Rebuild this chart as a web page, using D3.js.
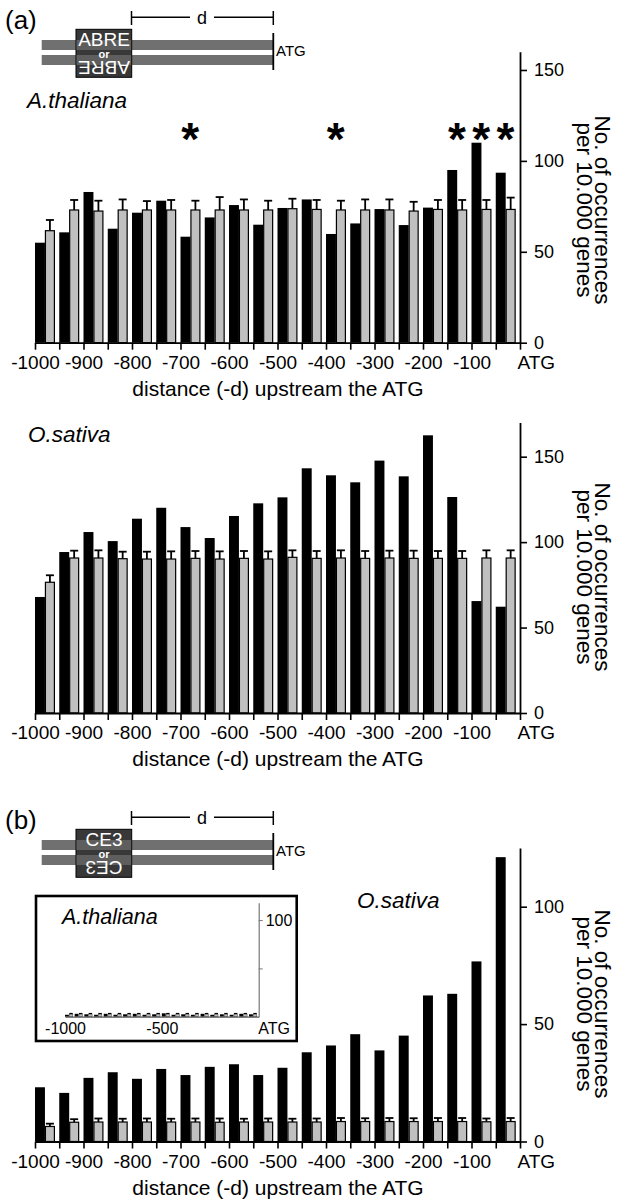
<!DOCTYPE html>
<html>
<head>
<meta charset="utf-8">
<script src="https://cdn.jsdelivr.net/npm/d3@7"></script>
<style>
  body { margin: 0; background: #fff; }
  svg { display: block; font-family: "Liberation Sans", Arial, sans-serif; }
</style>
</head>
<body>
<svg width="619" height="1199"></svg>
<script>
// bin starts (50 bp windows upstream of ATG)
const binStarts = [-1000, -950, -900, -850, -800, -750, -700, -650, -600, -550,
  -500, -450, -400, -350, -300, -250, -200, -150, -100, -50];

const xTickValues = [-1000, -950, -900, -850, -800, -750, -700, -650, -600, -550,
  -500, -450, -400, -350, -300, -250, -200, -150, -100, -50, 0];
const xTickLabels = ["-1000", "", "-900", "", "-800", "", "-700", "", "-600", "",
  "-500", "", "-400", "", "-300", "", "-200", "", "-100", "", "ATG"];

// (a) ABRE, A.thaliana
const abreAthObserved = [55.0, 60.7, 82.9, 62.7, 71.5, 78.1, 58.3, 68.9, 75.7, 64.9,
  74.1, 78.8, 59.8, 65.6, 73.5, 64.7, 74.3, 95.0, 110.0, 93.5];
const abreAthRandom = [61.6, 73.0, 72.4, 73.0, 73.0, 73.0, 73.0, 73.0, 73.0, 73.0,
  73.7, 73.3, 73.0, 73.0, 73.0, 72.4, 73.3, 73.0, 73.3, 73.3];
const abreAthErr = [5.9, 5.5, 5.7, 5.8, 4.9, 5.5, 5.1, 7.1, 5.8, 5.1,
  5.5, 5.2, 5.1, 5.8, 5.8, 5.1, 5.2, 5.5, 5.2, 6.5];
const abreAthStars = [-700, -400, -150, -100, -50];

// (a) ABRE, O.sativa
const abreOsObserved = [67.9, 94.2, 105.9, 100.6, 113.7, 120.1, 108.8, 102.4, 115.3, 122.7,
  126.2, 143.2, 139.1, 135.0, 147.7, 138.5, 162.5, 126.4, 65.5, 62.2];
const abreOsRandom = [76.5, 90.7, 90.7, 90.3, 90.1, 90.1, 90.5, 90.1, 90.5, 90.1,
  91.1, 90.5, 90.7, 90.5, 90.7, 90.5, 90.5, 90.5, 90.7, 90.7];
const abreOsErr = [4.1, 4.3, 4.5, 4.1, 4.3, 4.5, 4.3, 4.5, 4.3, 4.5,
  4.1, 4.3, 4.5, 4.3, 4.3, 4.5, 4.3, 4.3, 4.5, 4.5];

// (b) CE3, O.sativa
const ce3OsObserved = [23.1, 20.7, 27.1, 29.5, 26.7, 30.9, 28.3, 31.8, 32.9, 28.3,
  31.4, 38.0, 40.9, 45.7, 38.8, 45.1, 62.2, 62.9, 76.7, 121.1];
const ce3OsRandom = [6.4, 8.2, 8.3, 8.3, 8.3, 8.3, 8.3, 8.2, 8.3, 8.3,
  8.3, 8.3, 8.5, 8.5, 8.5, 8.5, 8.5, 8.5, 8.4, 8.5];
const ce3OsErr = [1.2, 1.3, 1.5, 1.4, 1.5, 1.4, 1.5, 1.6, 1.4, 1.5,
  1.4, 1.5, 1.5, 1.4, 1.5, 1.4, 1.5, 1.5, 1.4, 1.5];

// (b) inset CE3, A.thaliana
const ce3AthObserved = [2.0, 3.0, 2.5, 2.0, 3.0, 2.0, 2.5, 3.0, 2.0, 2.5,
  3.5, 2.0, 2.5, 2.0, 3.0, 2.0, 2.5, 2.0, 3.0, 2.5];
const ce3AthRandom = [2.5, 2.5, 2.5, 2.5, 2.5, 2.5, 2.5, 2.5, 2.5, 2.5,
  2.5, 2.5, 2.5, 2.5, 2.5, 2.5, 2.5, 2.5, 2.5, 2.5];
const ce3AthErr = [0.8, 0.8, 0.8, 0.8, 0.8, 0.8, 0.8, 0.8, 0.8, 0.8,
  0.8, 0.8, 0.8, 0.8, 0.8, 0.8, 0.8, 0.8, 0.8, 0.8];

const FONT = '"Liberation Sans", Arial, sans-serif';
const svg = d3.select("svg");

const x = d3.scaleLinear().domain([-1000, 0]).range([35, 520]);

const drawPanel = (o) => {
  const y = d3.scaleLinear().domain([0, o.yMax]).range([o.base, o.top]);
  const g = svg.append("g");

  const data = binStarts.map((s, i) => ({ s, obs: o.obs[i], rnd: o.rnd[i], err: o.err[i] }));

  g.selectAll(".obs").data(data).enter().append("rect")
    .attr("x", d => x(d.s))
    .attr("width", d => x(d.s + 20.5) - x(d.s))
    .attr("y", d => y(d.obs))
    .attr("height", d => y(0) - y(d.obs))
    .attr("fill", "#000");

  // error bars behind the grey bars
  g.selectAll(".errv").data(data).enter().append("line")
    .attr("x1", d => x(d.s + 30.75)).attr("x2", d => x(d.s + 30.75))
    .attr("y1", d => y(d.rnd)).attr("y2", d => y(d.rnd + d.err))
    .attr("stroke", "#000").attr("stroke-width", 1.8);
  g.selectAll(".errc").data(data).enter().append("line")
    .attr("x1", d => x(d.s + 22.5)).attr("x2", d => x(d.s + 39))
    .attr("y1", d => y(d.rnd + d.err)).attr("y2", d => y(d.rnd + d.err))
    .attr("stroke", "#000").attr("stroke-width", 1.8);

  g.selectAll(".rnd").data(data).enter().append("rect")
    .attr("x", d => x(d.s + 21.5))
    .attr("width", d => x(d.s + 40) - x(d.s + 21.5))
    .attr("y", d => y(d.rnd))
    .attr("height", d => y(0) - y(d.rnd))
    .attr("fill", "#c0c0c0")
    .attr("stroke", "#000")
    .attr("stroke-width", 1.2);

  const xAxisG = g.append("g")
    .attr("transform", `translate(0, ${o.base})`)
    .call(d3.axisBottom(x).tickValues(xTickValues)
      .tickFormat((d, i) => xTickLabels[i]).tickSize(7).tickPadding(6).tickSizeOuter(0));
  xAxisG.selectAll("text").attr("font-family", FONT).attr("font-size", 19).attr("fill", "#000");
  xAxisG.selectAll("line").attr("stroke-width", 1.6);
  xAxisG.select(".domain").attr("stroke-width", 1.8);
  xAxisG.selectAll(".tick").filter(d => d === 0).select("text")
    .attr("text-anchor", "start").attr("x", -3);

  const yAxisG = g.append("g")
    .attr("transform", `translate(520, 0)`)
    .call(d3.axisRight(y).tickValues(o.yTicks).tickSize(7).tickPadding(7).tickSizeOuter(0));
  yAxisG.selectAll("text").attr("font-family", FONT).attr("font-size", 18).attr("fill", "#000");
  yAxisG.selectAll("line").attr("stroke-width", 1.6);
  yAxisG.select(".domain").attr("stroke-width", 1.8);

  g.append("text")
    .attr("x", 278).attr("y", o.base + 53)
    .attr("text-anchor", "middle")
    .attr("font-size", 21)
    .text("distance (-d) upstream the ATG");

  const yl = g.append("g").attr("transform", `translate(595, ${o.labelY}) rotate(90)`);
  yl.append("text").attr("text-anchor", "middle").attr("font-size", 22.5).text("No. of occurrences");
  yl.append("text").attr("y", 18).attr("text-anchor", "middle").attr("font-size", 22.5).text("per 10.000 genes");

  g.append("text")
    .attr("x", o.titleX).attr("y", o.titleY)
    .attr("font-size", 22.5).attr("font-style", "italic")
    .text(o.title);

  if (o.stars) {
    g.selectAll(".star").data(o.stars).enter().append("text")
      .attr("x", d => x(d + 20))
      .attr("y", 155)
      .attr("text-anchor", "middle")
      .attr("font-size", 46).attr("font-weight", "bold")
      .text("*");
  }
  return g;
};

const drawDiagram = (dy, label, motif) => {
  const g = svg.append("g").attr("transform", `translate(0, ${dy})`);
  g.append("text").attr("x", 5).attr("y", 29).attr("font-size", 26).text(label);
  // dimension line
  g.append("line").attr("x1", 131.5).attr("x2", 190).attr("y1", 17.3).attr("y2", 17.3).attr("stroke", "#000").attr("stroke-width", 1.5);
  g.append("line").attr("x1", 214).attr("x2", 273.3).attr("y1", 17.3).attr("y2", 17.3).attr("stroke", "#000").attr("stroke-width", 1.5);
  g.append("line").attr("x1", 131.5).attr("x2", 131.5).attr("y1", 11).attr("y2", 25).attr("stroke", "#000").attr("stroke-width", 1.5);
  g.append("line").attr("x1", 273.3).attr("x2", 273.3).attr("y1", 11).attr("y2", 25).attr("stroke", "#000").attr("stroke-width", 1.5);
  g.append("text").attr("x", 202).attr("y", 24).attr("text-anchor", "middle").attr("font-size", 18).text("d");
  // strands
  g.append("rect").attr("x", 41.7).attr("y", 40).attr("width", 231.6).attr("height", 10).attr("fill", "#707070");
  g.append("rect").attr("x", 41.7).attr("y", 55).attr("width", 231.6).attr("height", 10).attr("fill", "#707070");
  g.append("line").attr("x1", 273.3).attr("x2", 273.3).attr("y1", 33).attr("y2", 70).attr("stroke", "#000").attr("stroke-width", 1.8);
  g.append("text").attr("x", 276).attr("y", 55.5).attr("font-size", 15).text("ATG");
  // motif box
  g.append("rect").attr("x", 76).attr("y", 29.3).attr("width", 55.7).attr("height", 48).attr("fill", "#383838").attr("stroke", "#000").attr("stroke-width", 1);
  g.append("rect").attr("x", 76.5).attr("y", 40).attr("width", 54.7).attr("height", 10).attr("fill", "#5e5e5e");
  g.append("rect").attr("x", 76.5).attr("y", 55).attr("width", 54.7).attr("height", 10).attr("fill", "#5e5e5e");
  g.append("text").attr("x", 104).attr("y", 46).attr("text-anchor", "middle").attr("font-size", 19).attr("fill", "#fff").text(motif);
  g.append("text").attr("x", 104).attr("y", 57.5).attr("text-anchor", "middle").attr("font-size", 11).attr("font-weight", "bold").attr("fill", "#fff").text("or");
  g.append("text").attr("transform", "translate(104, 61) rotate(180)").attr("text-anchor", "middle").attr("font-size", 19).attr("fill", "#fff").text(motif);
};

drawDiagram(0, "(a)", "ABRE");
drawDiagram(800, "(b)", "CE3");

drawPanel({
  base: 342.7, top: 51.8, yMax: 160, yTicks: [0, 50, 100, 150],
  obs: abreAthObserved, rnd: abreAthRandom, err: abreAthErr,
  title: "A.thaliana", titleX: 27, titleY: 108, labelY: 210, stars: abreAthStars
});

drawPanel({
  base: 713, top: 422.5, yMax: 170, yTicks: [0, 50, 100, 150],
  obs: abreOsObserved, rnd: abreOsRandom, err: abreOsErr,
  title: "O.sativa", titleX: 28, titleY: 442, labelY: 577
});

drawPanel({
  base: 1141.5, top: 848, yMax: 125, yTicks: [0, 50, 100],
  obs: ce3OsObserved, rnd: ce3OsRandom, err: ce3OsErr,
  title: "O.sativa", titleX: 357, titleY: 908, labelY: 1004
});

// inset: A.thaliana CE3
const inset = svg.append("g");
inset.append("rect").attr("x", 36).attr("y", 896).attr("width", 260.7).attr("height", 145)
  .attr("fill", "#fff").attr("stroke", "#000").attr("stroke-width", 2.6);
const xi = d3.scaleLinear().domain([-1000, 0]).range([65, 258.7]);
const yi = d3.scaleLinear().domain([0, 118]).range([1016.7, 902.7]);
const insetData = binStarts.map((s, i) => ({ s, obs: ce3AthObserved[i], rnd: ce3AthRandom[i], err: ce3AthErr[i] }));
inset.selectAll(".iobs").data(insetData).enter().append("rect")
  .attr("x", d => xi(d.s)).attr("width", d => xi(d.s + 20) - xi(d.s))
  .attr("y", d => yi(d.obs)).attr("height", d => yi(0) - yi(d.obs))
  .attr("fill", "#000");
inset.selectAll(".ierr").data(insetData).enter().append("line")
  .attr("x1", d => xi(d.s + 22)).attr("x2", d => xi(d.s + 40))
  .attr("y1", d => yi(d.rnd + d.err)).attr("y2", d => yi(d.rnd + d.err))
  .attr("stroke", "#000").attr("stroke-width", 1.2);
inset.selectAll(".irnd").data(insetData).enter().append("rect")
  .attr("x", d => xi(d.s + 22)).attr("width", d => xi(d.s + 40) - xi(d.s + 22))
  .attr("y", d => yi(d.rnd)).attr("height", d => yi(0) - yi(d.rnd))
  .attr("fill", "#c0c0c0").attr("stroke", "#555").attr("stroke-width", 0.6);
const ixAxis = inset.append("g").attr("transform", "translate(0, 1016.7)")
  .call(d3.axisBottom(xi).tickValues([-1000, -500, 0])
    .tickFormat(d => d === 0 ? "ATG" : d).tickSize(0).tickPadding(6).tickSizeOuter(0));
ixAxis.select(".domain").attr("stroke", "#555").attr("stroke-width", 1.2);
ixAxis.selectAll("text").attr("font-family", FONT).attr("font-size", 16).attr("fill", "#000");
ixAxis.selectAll(".tick").filter(d => d === 0).select("text").attr("text-anchor", "start").attr("x", -1);
const iyAxis = inset.append("g").attr("transform", "translate(258.7, 0)")
  .call(d3.axisRight(yi).tickValues([50, 100]).tickFormat(d => d === 100 ? "100" : "")
    .tickSize(4).tickPadding(3).tickSizeOuter(0));
iyAxis.select(".domain").attr("stroke", "#777").attr("stroke-width", 1.2);
iyAxis.selectAll("line").attr("stroke", "#777");
iyAxis.selectAll("text").attr("font-family", FONT).attr("font-size", 16).attr("fill", "#000");
inset.append("text").attr("x", 62).attr("y", 924)
  .attr("font-size", 21.5).attr("font-style", "italic").text("A.thaliana");
</script>
</body>
</html>
